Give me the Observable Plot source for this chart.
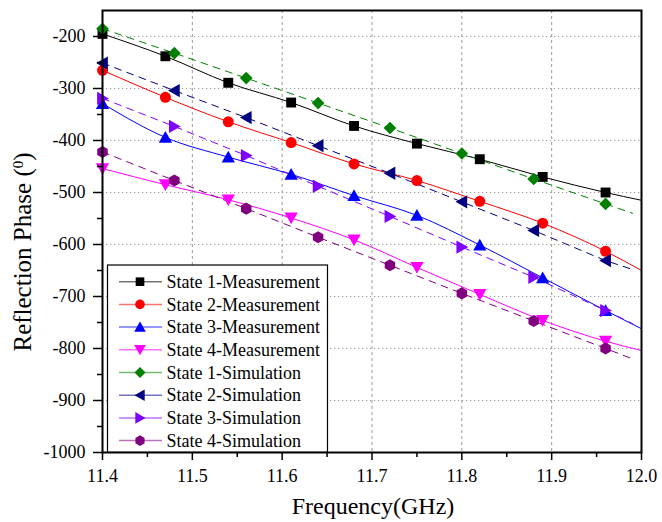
<!DOCTYPE html>
<html><head><meta charset="utf-8">
<script src="https://cdn.jsdelivr.net/npm/d3@7"></script>
<script src="https://cdn.jsdelivr.net/npm/@observablehq/plot@0.6"></script>
<style>body{margin:0;background:#fff}#chart{width:662px;height:522px}</style>
</head><body><div id="chart"></div>
<script>
// ---- data ----
const measX = [11.4, 11.47, 11.54, 11.61, 11.68, 11.75, 11.82, 11.89, 11.96];
const simX  = [11.4, 11.48, 11.56, 11.64, 11.72, 11.80, 11.88, 11.96];
const measLineEndX = 12.0;
const simLineEndX = 11.99;

const state1Meas = [-195, -238, -289, -327, -372, -406, -436, -470, -500];
const state2Meas = [-265, -317, -364, -404, -445, -477, -517, -559, -613];
const state3Meas = [-329, -394, -432, -465, -506, -544, -601, -664, -727];
const state4Meas = [-454, -485, -514, -549, -591, -644, -696, -746, -786];
const measLineEnd = [-515, -650, -762, -804];

const state1Sim = [-185, -232, -280, -328, -376, -425, -474, -522];
const state2Sim = [-251, -304, -356, -410, -463, -518, -573, -631];
const state3Sim = [-319, -373, -429, -488, -546, -605, -663, -727];
const state4Sim = [-422, -477, -531, -586, -640, -694, -747, -800];
const simLineEnd = [-540, -648, -752, -820];

const seriesNames = ["State 1-Measurement","State 2-Measurement","State 3-Measurement","State 4-Measurement",
  "State 1-Simulation","State 2-Simulation","State 3-Simulation","State 4-Simulation"];
const seriesColors = ["#000000","#ff0000","#0000ff","#ff00ff","#008000","#000080","#8000ff","#800080"];

const xTicks = [11.4, 11.5, 11.6, 11.7, 11.8, 11.9, 12.0];
const xMinorTicks = [11.45, 11.55, 11.65, 11.75, 11.85, 11.95];
const yTicks = [-1000, -900, -800, -700, -600, -500, -400, -300, -200];
const yMinorTicks = [-950, -850, -750, -650, -550, -450, -350, -250];

const FONT = "Liberation Serif";

// ---- custom symbols (size = r*r*PI) ----
function poly(ctx, pts){ ctx.moveTo(pts[0][0], pts[0][1]); for (let i=1;i<pts.length;i++) ctx.lineTo(pts[i][0], pts[i][1]); ctx.closePath(); }
const rad = s => Math.sqrt(s / Math.PI);
const symSquare = {draw(ctx, s){ const h = rad(s)*0.9; poly(ctx, [[-h,-h],[h,-h],[h,h],[-h,h]]); }};
const symCircle = {draw(ctx, s){ const r = rad(s); ctx.moveTo(r,0); ctx.arc(0,0,r,0,2*Math.PI); }};
const symUp = {draw(ctx, s){ const r = rad(s)*1.15; poly(ctx, [[0,-r],[r*1.05,r*0.85],[-r*1.05,r*0.85]]); }};
const symDown = {draw(ctx, s){ const r = rad(s)*1.15; poly(ctx, [[0,r],[r*1.05,-r*0.85],[-r*1.05,-r*0.85]]); }};
const symLeft = {draw(ctx, s){ const r = rad(s)*1.15; poly(ctx, [[-r,0],[r*0.85,-r*1.05],[r*0.85,r*1.05]]); }};
const symRight = {draw(ctx, s){ const r = rad(s)*1.15; poly(ctx, [[r,0],[-r*0.85,-r*1.05],[-r*0.85,r*1.05]]); }};
const symDiamond = {draw(ctx, s){ const r = rad(s)*1.15; poly(ctx, [[0,-r],[r,0],[0,r],[-r,0]]); }};
const symHex = {draw(ctx, s){ const r = rad(s)*1.1; const p=[]; for(let i=0;i<6;i++){const a=Math.PI/3*i+Math.PI/6; p.push([r*Math.cos(a), r*Math.sin(a)]);} poly(ctx,p); }};
const seriesSymbols = [symSquare, symCircle, symUp, symDown, symDiamond, symLeft, symRight, symHex];

const measSets = [state1Meas, state2Meas, state3Meas, state4Meas];
const simSets = [state1Sim, state2Sim, state3Sim, state4Sim];

const series = seriesNames.map((name, i) => {
  const isMeas = i < 4;
  const xs = isMeas ? measX : simX;
  const ys = isMeas ? measSets[i] : simSets[i - 4];
  const pts = xs.map((x, j) => ({x, y: ys[j]}));
  const endPt = {x: isMeas ? measLineEndX : simLineEndX, y: isMeas ? measLineEnd[i] : simLineEnd[i - 4]};
  return {name, isMeas, color: seriesColors[i], symbol: seriesSymbols[i], pts, linePts: pts.concat([endPt])};
});

const marks = [
  Plot.gridY(yTicks.filter(v => v > -1000), {stroke: "#9a9a9a", strokeOpacity: 1, strokeDasharray: "1.2,2.8", strokeWidth: 1}),
  Plot.gridX(xTicks.filter(v => v > 11.4 && v < 12.0), {stroke: "#9a9a9a", strokeOpacity: 1, strokeDasharray: "3,3", strokeWidth: 1}),
];
for (const s of series) {
  marks.push(Plot.line(s.linePts, {x: "x", y: "y", stroke: s.color, strokeWidth: 1,
    strokeDasharray: s.isMeas ? null : "7,6", curve: s.isMeas ? "monotone-x" : "linear"}));
}
for (const s of series) {
  marks.push(Plot.dot(s.pts, {x: "x", y: "y", fill: s.color, stroke: "none", symbol: s.symbol, r: 5.5}));
}
marks.push(
  Plot.frame({stroke: "#000", strokeWidth: 2}),
  Plot.axisX(xTicks, {tickSize: 8, tickPadding: 9, tickFormat: d => d.toFixed(1), strokeWidth: 1.5, label: null, fontSize: 18, fontFamily: FONT, fill: "#000"}),
  Plot.axisX(xMinorTicks, {tickSize: 5, tickFormat: () => "", strokeWidth: 1.5, label: null}),
  Plot.axisY(yTicks, {tickSize: 9, tickPadding: 8, tickFormat: d => String(d), strokeWidth: 1.5, label: null, fontSize: 18, fontFamily: FONT, fill: "#000"}),
  Plot.axisY(yMinorTicks, {tickSize: 5, tickFormat: () => "", strokeWidth: 1.5, label: null})
);

const plot = Plot.plot({
  width: 662, height: 522,
  marginLeft: 102, marginRight: 21, marginTop: 10, marginBottom: 70,
  x: {domain: [11.4, 12.0]},
  y: {domain: [-1000, -150]},
  style: {fontFamily: FONT, fontSize: "18px", color: "#000", background: "#fff"},
  marks
});
document.getElementById("chart").appendChild(plot);

// ---- axis titles & legend ----
const svg = d3.select(plot);
svg.append("text").attr("x", 373).attr("y", 514).attr("text-anchor", "middle")
  .attr("font-family", FONT).attr("font-size", 24).attr("fill", "#000")
  .text("Frequency(GHz)");
const yl = svg.append("text").attr("transform", "translate(31,252) rotate(-90)").attr("text-anchor", "middle")
  .attr("font-family", FONT).attr("font-size", 25).attr("fill", "#000");
yl.append("tspan").text("Reflection Phase (");
yl.append("tspan").attr("baseline-shift", "super").attr("font-size", 15).text("0");
yl.append("tspan").text(")");

const lg = svg.append("g");
lg.append("rect").attr("x", 107.5).attr("y", 265).attr("width", 220).attr("height", 187)
  .attr("fill", "#fff").attr("stroke", "#000").attr("stroke-width", 1.2);
series.forEach((s, i) => {
  const cy = 281.7 + i * 22.7;
  lg.append("line").attr("x1", 119).attr("x2", 162).attr("y1", cy).attr("y2", cy)
    .attr("stroke", s.color).attr("stroke-opacity", 0.55).attr("stroke-width", 1.5);
  lg.append("path").attr("transform", `translate(140,${cy})`)
    .attr("d", d3.symbol(s.symbol, 4.8 * 4.8 * Math.PI)()).attr("fill", s.color);
  lg.append("text").attr("x", 166.5).attr("y", cy).attr("dy", "0.34em").attr("text-anchor", "start")
    .attr("font-family", FONT).attr("font-size", 18).attr("fill", "#000")
    .text(s.name);
});
</script></body></html>
